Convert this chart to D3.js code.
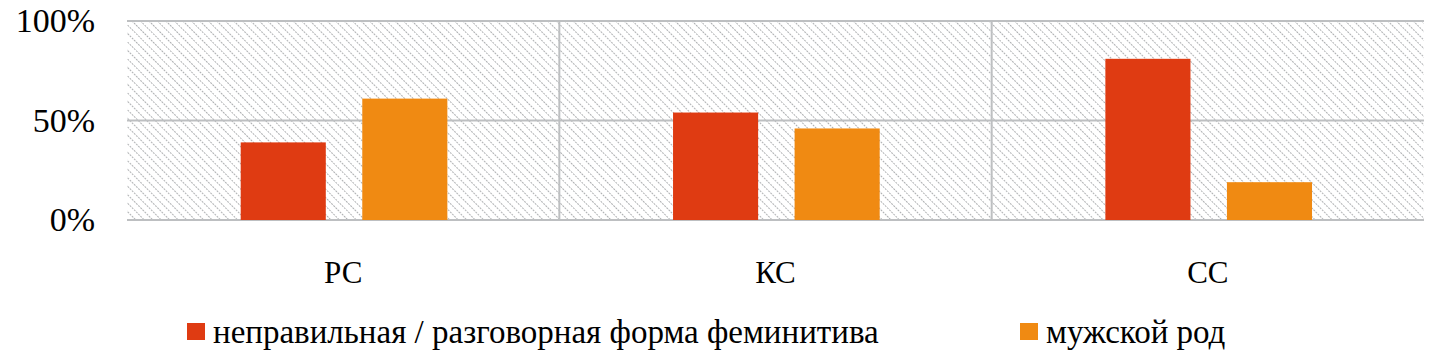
<!DOCTYPE html>
<html>
<head>
<meta charset="utf-8">
<script src="https://cdn.jsdelivr.net/npm/d3@7"></script>
<style>
  body { margin: 0; }
  #wrap { position: relative; width: 1445px; height: 359px; }
  #wrap svg { position: absolute; left: 0; top: 0; }
  .lbl { position: absolute; font-family: 'Liberation Serif'; color: #000; white-space: nowrap; line-height: 1; }
</style>
</head>
<body>
<div id="wrap"><svg width="1445" height="359" id="chart"></svg></div>
<script>
(function() {
  var categories = ['РС', 'КС', 'СС'];
  var seriesNames = ['неправильная / разговорная форма феминитива', 'мужской род'];
  var wrongForm = [0.39, 0.54, 0.81];
  var masculine = [0.61, 0.46, 0.19];
  var yTicks = [0, 0.5, 1];

  var COLORS = ['#df3b12', '#f08a12'];
  var margin = { top: 21, right: 21, bottom: 139, left: 127 };
  var iw = 1445 - margin.left - margin.right;
  var ih = 359 - margin.top - margin.bottom;

  var wrap = d3.select('#wrap');
  var svg = d3.select('#chart');

  // Hatch pattern
  var pat = svg.append('defs').append('pattern').attr('id', 'hatch').attr('patternUnits', 'userSpaceOnUse')
    .attr('width', 6).attr('height', 6).attr('patternTransform', 'rotate(-45)');
  pat.append('line').attr('x1', 0).attr('y1', 0).attr('x2', 0).attr('y2', 6)
    .attr('stroke', '#b0b2b4').attr('stroke-width', 2).attr('stroke-dasharray', '2,1');

  var x0 = d3.scaleBand().domain(categories).range([margin.left, margin.left + iw]);
  var x1 = d3.scaleBand().domain([0, 1]).range([x0.bandwidth() * 0.263, x0.bandwidth() * 0.741]).paddingInner(0.3);
  var y = d3.scaleLinear().domain([0, 1]).range([margin.top + ih, margin.top]);

  svg.append('rect').attr('x', margin.left).attr('y', margin.top).attr('width', iw).attr('height', ih).attr('fill', 'url(#hatch)');

  // Grid
  svg.append('g').selectAll('line').data(yTicks).join('line')
    .attr('x1', margin.left).attr('x2', margin.left + iw)
    .attr('y1', function(d) { return y(d); }).attr('y2', function(d) { return y(d); })
    .attr('stroke', '#bdbfc1').attr('stroke-width', 2);
  svg.append('g').selectAll('line').data(categories.slice(1)).join('line')
    .attr('x1', function(d) { return x0(d); }).attr('x2', function(d) { return x0(d); })
    .attr('y1', margin.top).attr('y2', margin.top + ih)
    .attr('stroke', '#bdbfc1').attr('stroke-width', 2);

  // Bars
  var bars = [];
  categories.forEach(function(c, i) {
    bars.push({ cat: c, k: 0, v: wrongForm[i] });
    bars.push({ cat: c, k: 1, v: masculine[i] });
  });
  svg.append('g').selectAll('rect').data(bars).join('rect')
    .attr('x', function(d) { return x0(d.cat) + x1(d.k); })
    .attr('width', x1.bandwidth())
    .attr('y', function(d) { return y(d.v); })
    .attr('height', function(d) { return y(0) - y(d.v); })
    .attr('fill', function(d) { return COLORS[d.k]; });

  // Y tick labels (HTML)
  wrap.selectAll('div.ytick').data(yTicks).join('div').attr('class', 'lbl ytick')
    .style('font-size', '34px')
    .style('right', (1445 - 95) + 'px')
    .style('top', function(d) { return (y(d) - 17) + 'px'; })
    .text(function(d) { return (d * 100) + '%'; });

  // Category labels (HTML)
  wrap.selectAll('div.xtick').data(categories).join('div').attr('class', 'lbl xtick')
    .style('font-size', '31px')
    .style('width', x0.bandwidth() + 'px').style('text-align', 'center')
    .style('left', function(d) { return x0(d) + 'px'; })
    .style('top', '257px')
    .text(function(d) { return d; });

  // Legend
  var legendX = [187, 1020];
  seriesNames.forEach(function(name, i) {
    svg.append('rect').attr('x', legendX[i]).attr('y', 323).attr('width', 18).attr('height', 17).attr('fill', COLORS[i]);
    wrap.append('div').attr('class', 'lbl')
      .style('font-size', '33px')
      .style('left', (legendX[i] + 26) + 'px').style('top', '316px')
      .text(name);
  });
})();
</script>
</body>
</html>
